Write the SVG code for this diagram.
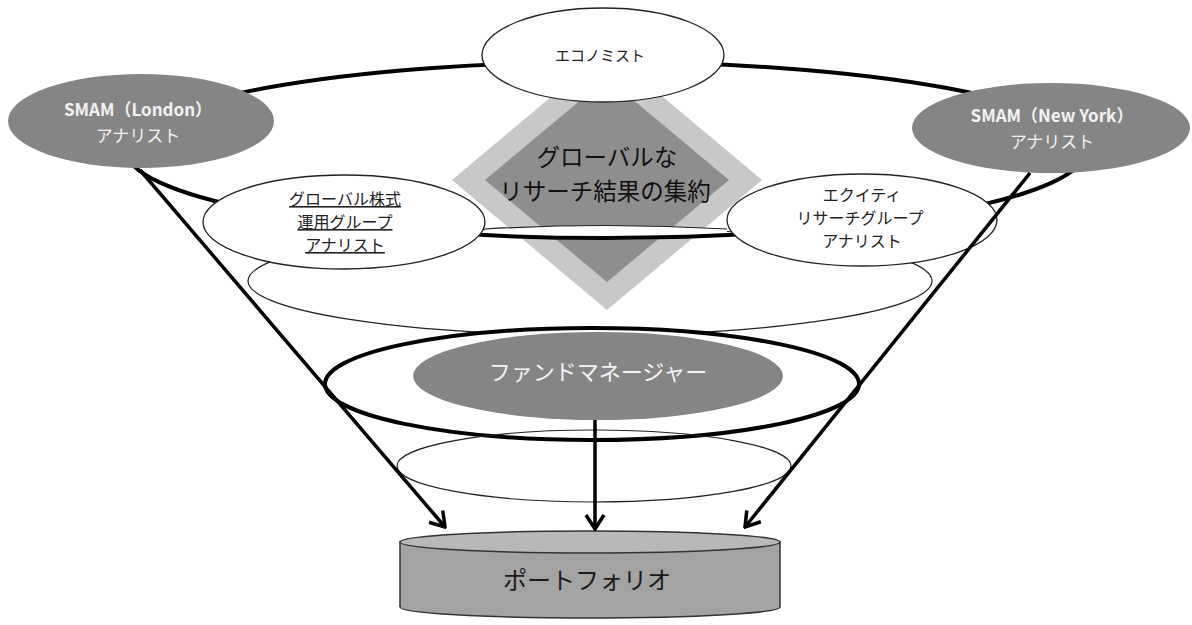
<svg xmlns="http://www.w3.org/2000/svg" width="1192" height="625" viewBox="0 0 1192 625">
<defs>
<style>
.jp{font-family:"Noto Sans CJK JP","Noto Sans",sans-serif;}
.wnode{fill:#fff;stroke:#222;stroke-width:1.3;}
.gnode{fill:#858585;stroke:none;}
.thin{fill:none;stroke:#222;stroke-width:1.2;}
.thick{fill:none;stroke:#000;stroke-width:4;}
.conn{fill:none;stroke:#000;stroke-width:3.5;}
</style>
<marker id="arr" viewBox="-16 -11 18 22" markerWidth="18" markerHeight="22" refX="0" refY="0" orient="auto" markerUnits="userSpaceOnUse">
<path d="M-14,-9 L0,0 L-14,9" fill="none" stroke="#000" stroke-width="3.5" stroke-linejoin="miter"/>
</marker>
</defs>
<rect width="1192" height="625" fill="#fff"/>

<g id="funnel-rings">
<ellipse cx="590" cy="281" rx="342" ry="54" fill="#fff" stroke="#222" stroke-width="1.2"/>
</g>

<g id="aggregation">
<polygon points="607,50 762,180 607,310 452,180" fill="#c8c8c8"/>
<polygon points="607,78 729,180 607,282 485,180" fill="#8e8e8e"/>
<path d="M485,229 Q606,222 727,229 L727,237 Q606,243 485,237 Z" fill="#fff"/>
<path d="M485,229 Q606,222 727,229" class="thin"/>
<text class="jp" x="607" y="166" font-size="23.5" text-anchor="middle" fill="#111">グローバルな</text>
<text class="jp" x="605" y="200" font-size="23.5" text-anchor="middle" fill="#111">リサーチ結果の集約</text>
</g>

<g id="ring-main">
<ellipse cx="606" cy="150" rx="480" ry="88" class="thick"/>
</g>

<g id="economist">
<ellipse cx="603" cy="55" rx="121" ry="47" class="wnode"/>
<text class="jp" x="600" y="61" font-size="15" text-anchor="middle" fill="#222">エコノミスト</text>
</g>

<g id="london">
<ellipse cx="141" cy="121" rx="133" ry="47" class="gnode"/>
<text class="jp" x="138" y="116" font-size="17" font-weight="bold" text-anchor="middle" fill="#f2f2f2">SMAM（London）</text>
<text class="jp" x="138" y="142" font-size="17" text-anchor="middle" fill="#f2f2f2">アナリスト</text>
</g>

<g id="newyork">
<ellipse cx="1051" cy="128" rx="139" ry="45" class="gnode"/>
<text class="jp" x="1052" y="122" font-size="17" font-weight="bold" text-anchor="middle" fill="#f2f2f2">SMAM（New York）</text>
<text class="jp" x="1052" y="148" font-size="17" text-anchor="middle" fill="#f2f2f2">アナリスト</text>
</g>

<g id="global-equity">
<ellipse cx="344" cy="222" rx="141" ry="47" class="wnode"/>
<g class="jp" font-size="16" text-anchor="middle" fill="#222" text-decoration="underline">
<text x="345" y="205">グローバル株式</text>
<text x="345" y="228">運用グループ</text>
<text x="345" y="251">アナリスト</text>
</g>
</g>

<g id="equity-research">
<ellipse cx="862" cy="220" rx="135" ry="46" class="wnode"/>
<g class="jp" font-size="16" text-anchor="middle" fill="#222">
<text x="862" y="201">エクイティ</text>
<text x="860" y="224">リサーチグループ</text>
<text x="862" y="247">アナリスト</text>
</g>
</g>

<g id="fund-manager">
<ellipse cx="592" cy="384" rx="267" ry="56" fill="#fff" stroke="#000" stroke-width="4"/>
<ellipse cx="598" cy="376" rx="185" ry="44" class="gnode"/>
<text class="jp" x="598" y="380" font-size="22" text-anchor="middle" fill="#f5f5f5">ファンドマネージャー</text>
<ellipse cx="594" cy="466" rx="197" ry="36" class="thin"/>
</g>

<g id="portfolio">
<path d="M400,542 L400,607 A190,11 0 0 0 780,607 L780,542 Z" fill="#a3a3a3" stroke="#333" stroke-width="1.5"/>
<ellipse cx="590" cy="542" rx="190" ry="11" fill="#b8b8b8" stroke="#333" stroke-width="1.5"/>
<text class="jp" x="587" y="589" font-size="24" text-anchor="middle" fill="#1a1a1a">ポートフォリオ</text>
</g>

<g id="connectors">
<line x1="140" y1="170" x2="445" y2="527" class="conn" marker-end="url(#arr)"/>
<line x1="1030" y1="173" x2="745" y2="527" class="conn" marker-end="url(#arr)"/>
<line x1="595" y1="420" x2="595" y2="529" class="conn" marker-end="url(#arr)"/>
</g>
</svg>
